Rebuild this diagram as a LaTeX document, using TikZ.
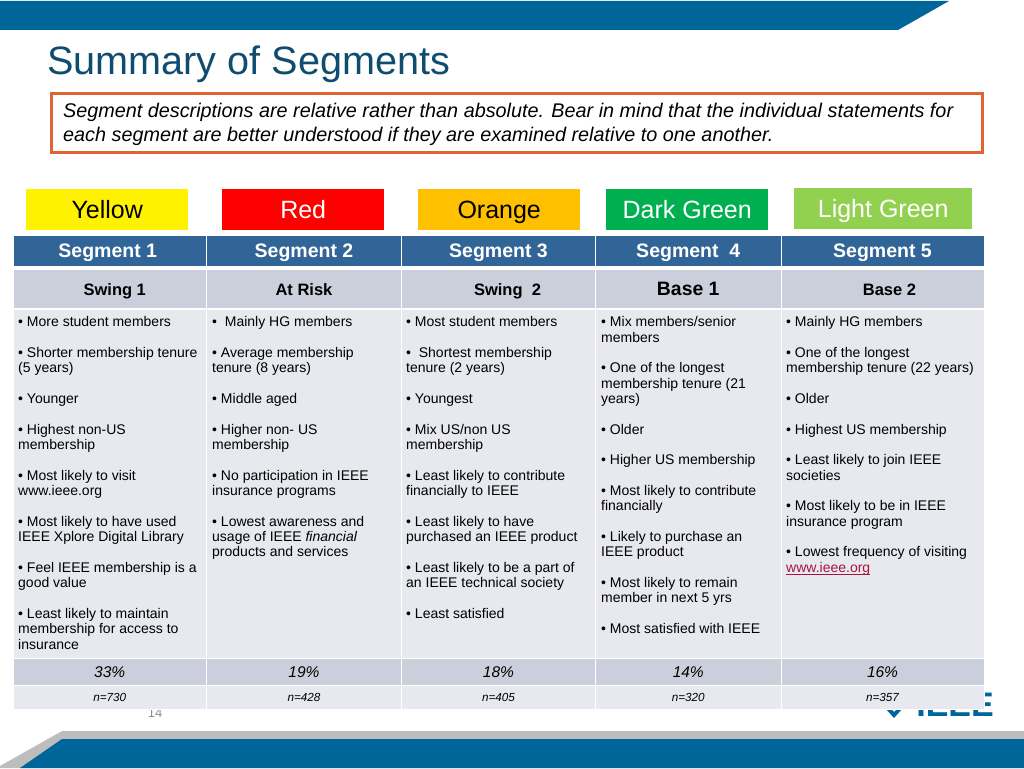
\documentclass[tikz,border=0pt]{standalone}
\usepackage{fontspec}
\setmainfont{Liberation Sans}
\usepackage{xcolor}
\usepackage{tikz}
\usetikzlibrary{positioning}
\definecolor{barblue}{HTML}{006699}
\definecolor{barshade}{HTML}{BDBDBD}
\definecolor{titleblue}{HTML}{0F4C6E}
\definecolor{framered}{HTML}{DF6430}
\definecolor{headblue}{HTML}{316497}
\definecolor{rowdark}{HTML}{CBCFDC}
\definecolor{rowlight}{HTML}{E7E9EF}
\definecolor{darkgrn}{HTML}{00B050}
\definecolor{lightgrn}{HTML}{92D050}
\definecolor{amber}{HTML}{FFC000}
\definecolor{linkred}{HTML}{A5153A}
\begin{document}
\begin{tikzpicture}[
    x=1pt, y=-1pt,
    swatch/.style={rectangle, anchor=north west, inner sep=0pt, minimum height=41pt, text height=18pt, text depth=0pt, font=\fontsize{25}{28}\selectfont},
    cell/.style={rectangle, anchor=north west, inner sep=0pt, outer sep=0pt, draw=white, line width=0.8pt},
    headcell/.style={cell, fill=headblue, text=white, minimum height=31pt, text height=14pt, text depth=0pt, font=\fontsize{19.5}{20}\selectfont\bfseries},
    namecell/.style={cell, fill=rowdark, minimum height=39pt, text height=12pt, text depth=0pt, font=\fontsize{16.5}{18}\selectfont\bfseries},
    bodycell/.style={cell, fill=rowlight, minimum height=349pt},
    sharecell/.style={cell, fill=rowdark, minimum height=27pt, text height=11pt, text depth=0pt, font=\fontsize{15.5}{18}\selectfont\itshape},
    countcell/.style={cell, fill=rowlight, minimum height=24pt, text height=8pt, text depth=0pt, font=\fontsize{11.7}{13}\selectfont\itshape},
    notes/.style={anchor=north west, inner sep=0pt, align=left, font=\fontsize{14}{15.35}\selectfont}
]
    \useasboundingbox (0,0) rectangle (1024,768);
    % bars
    \fill[barblue] (0,1) -- (949,1) -- (898,30) -- (0,30) -- cycle;
    \fill[barshade] (62,731) -- (1024,731) -- (1024,768) -- (0,768) -- (0,766) -- cycle;
    \fill[barblue] (62,739) -- (1024,739) -- (1024,768) -- (20,768) -- cycle;
    % title and note
    \node[anchor=base west, inner sep=0pt, text=titleblue, font=\fontsize{39.6}{42}\selectfont] (title) at (47,74.5) {Summary of Segments};
    \node[rectangle, draw=framered, line width=3pt, anchor=north west, minimum width=931pt, minimum height=59pt, inner sep=0pt] (frame) at (50,92) {};
    \node[anchor=north west, inner sep=0pt, align=left, font=\fontsize{19.8}{24.3}\selectfont\itshape] (note) at (63,102.8) {Segment descriptions are relative rather than absolute. Bear in mind that the individual statements for\\each segment are better understood if they are examined relative to one another.};
    % logo and page number, under the table
    \node[anchor=base, inner sep=0pt, text=black!45, font=\fontsize{13}{15}\selectfont] (page) at (155,717) {14};
    \node[anchor=base east, inner sep=0pt, text=barblue, font=\fontsize{34}{36}\selectfont\bfseries] (logo) at (994,716) {IEEE};
    \fill[barblue] (885,708) -- (890,708) -- (894,712) -- (898,708) -- (903,708) -- (894,718) -- cycle;
    % colour names
    \node[swatch, fill=yellow, minimum width=162pt] (yellow) at (26,189) {Yellow};
    \node[swatch, fill=red, text=white, minimum width=162pt] (redbox) at (222,189) {Red};
    \node[swatch, fill=amber, minimum width=162pt] (orange) at (418,189) {Orange};
    \node[swatch, fill=darkgrn, text=white, minimum width=162pt] (dark) at (606,189) {Dark Green};
    \node[swatch, fill=lightgrn, text=white, minimum width=178pt] (light) at (794,188) {Light Green};
    % table
    \foreach \name/\xa/\colw/\head/\kind/\share/\total in {
        one/13/193.5/{\hspace*{-4pt}Segment 1}/{\hspace*{10pt}Swing 1}/33\%/n=730,
        two/206.5/195/{Segment 2}/{At Risk}/19\%/n=428,
        three/401.5/194/{Segment 3}/{\hspace*{18pt}Swing\ \ 2}/18\%/n=405,
        four/595.5/185.5/{Segment\ \ 4}/{\fontsize{19.4}{20}\selectfont Base 1}/14\%/n=320,
        five/781/203/{Segment 5}/{\hspace*{14pt}Base 2}/16\%/n=357} {
        \node[headcell, minimum width=\colw pt] (head\name) at (\xa,235) {\head};
        \node[namecell, minimum width=\colw pt] (kind\name) at (\xa,269.5) {\kind};
        \node[bodycell, minimum width=\colw pt] (body\name) at (\xa,309) {};
        \node[sharecell, minimum width=\colw pt] (share\name) at (\xa,658) {\share};
        \node[countcell, minimum width=\colw pt] (total\name) at (\xa,685) {\total};
    }
    \node[notes] (textone) at (18,316.3) {• More student members\\[15.35pt]• Shorter membership tenure\\(5 years)\\[15.35pt]• Younger\\[15.35pt]• Highest non-US\\membership\\[15.35pt]• Most likely to visit\\www.ieee.org\\[15.35pt]• Most likely to have used\\IEEE Xplore Digital Library\\[15.35pt]• Feel IEEE membership is a\\good value\\[15.35pt]• Least likely to maintain\\membership for access to\\insurance};
    \node[notes] (texttwo) at (212,316.3) {•\ \ Mainly HG members\\[15.35pt]• Average membership\\tenure (8 years)\\[15.35pt]• Middle aged\\[15.35pt]• Higher non- US\\membership\\[15.35pt]• No participation in IEEE\\insurance programs\\[15.35pt]• Lowest awareness and\\usage of IEEE \textit{financial}\\products and services};
    \node[notes] (textthree) at (406,316.3) {• Most student members\\[15.35pt]•\ \ Shortest membership\\tenure (2 years)\\[15.35pt]• Youngest\\[15.35pt]• Mix US/non US\\membership\\[15.35pt]• Least likely to contribute\\financially to IEEE\\[15.35pt]• Least likely to have\\purchased an IEEE product\\[15.35pt]• Least likely to be a part of\\an IEEE technical society\\[15.35pt]• Least satisfied};
    \node[notes] (textfour) at (601,316.3) {• Mix members/senior\\members\\[15.35pt]• One of the longest\\membership tenure (21\\years)\\[15.35pt]• Older\\[15.35pt]• Higher US membership\\[15.35pt]• Most likely to contribute\\financially\\[15.35pt]• Likely to purchase an\\IEEE product\\[15.35pt]• Most likely to remain\\member in next 5 yrs\\[15.35pt]• Most satisfied with IEEE};
    \node[notes] (textfive) at (786,316.3) {• Mainly HG members\\[15.35pt]• One of the longest\\membership tenure (22 years)\\[15.35pt]• Older\\[15.35pt]• Highest US membership\\[15.35pt]• Least likely to join IEEE\\societies\\[15.35pt]• Most likely to be in IEEE\\insurance program\\[15.35pt]• Lowest frequency of visiting\\\textcolor{linkred}{www.ieee.org}};
    \draw[linkred, line width=0.7pt] (786,574.3) -- (870,574.3);
\end{tikzpicture}
\end{document}
